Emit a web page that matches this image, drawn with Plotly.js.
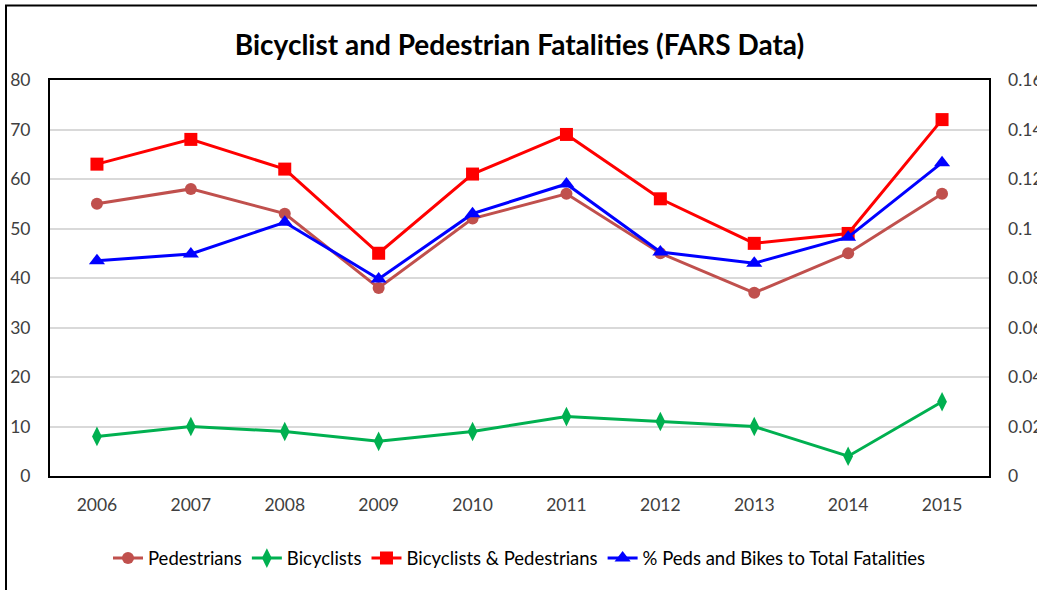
<!DOCTYPE html>
<html>
<head>
<meta charset="utf-8">
<script src="https://cdn.plot.ly/plotly-3.0.1.min.js"></script>
<style>
html,body{margin:0;padding:0;background:#fff;}
#chart{width:1037px;height:590px;}
</style>
</head>
<body>
<div id="chart"></div>
<script>
const years = ['2006','2007','2008','2009','2010','2011','2012','2013','2014','2015'];
const pedestrians = [55, 58, 53, 38, 52, 57, 45, 37, 45, 57];
const bicyclists = [8, 10, 9, 7, 9, 12, 11, 10, 4, 15];
const bikesAndPeds = [63, 68, 62, 45, 61, 69, 56, 47, 49, 72];
const pctToTotal = [0.087, 0.0897, 0.1025, 0.0796, 0.106, 0.118, 0.0905, 0.086, 0.0965, 0.1266];
const leftTicks = [0, 10, 20, 30, 40, 50, 60, 70, 80];
const rightTicks = [0, 0.02, 0.04, 0.06, 0.08, 0.1, 0.12, 0.14, 0.16];
const rightTickText = ['0', '0.02', '0.04', '0.06', '0.08', '0.1', '0.12', '0.14', '0.16'];

const FONT = 'Lato, "Open Sans", sans-serif';
const traces = [
  {x: years, y: pedestrians, name: 'Pedestrians', type: 'scatter', mode: 'lines+markers',
   line: {color: '#C0504D', width: 3}, marker: {symbol: 'circle', size: 12, color: '#C0504D'}},
  {x: years, y: bicyclists, name: 'Bicyclists', type: 'scatter', mode: 'lines+markers',
   line: {color: '#00B050', width: 3}, marker: {symbol: 'diamond-tall', size: 14, color: '#00B050'}},
  {x: years, y: bikesAndPeds, name: 'Bicyclists & Pedestrians', type: 'scatter', mode: 'lines+markers',
   line: {color: '#FF0000', width: 3}, marker: {symbol: 'square', size: 13, color: '#FF0000'}},
  {x: years, y: pctToTotal, name: '% Peds and Bikes to Total Fatalities', type: 'scatter', mode: 'lines+markers',
   yaxis: 'y2', line: {color: '#0000FF', width: 3}, marker: {symbol: 'triangle-up', size: 14, color: '#0000FF'}}
];

const layout = {
  width: 1037, height: 590,
  margin: {l: 50, r: 48, t: 80, b: 112, pad: 0},
  paper_bgcolor: '#fff', plot_bgcolor: '#fff',
  font: {family: FONT, size: 17.5, color: '#404040'},
  title: {text: 'Bicyclist and Pedestrian Fatalities (FARS Data)',
          font: {family: FONT, size: 28, color: '#000', weight: 'bold'},
          x: 0.5, xanchor: 'center', y: 1 - 45/590, yanchor: 'middle', xref: 'paper'},
  showlegend: true,
  legend: {orientation: 'h', x: 0.5, xanchor: 'center', y: -(561-478)/398, yanchor: 'middle',
           font: {family: FONT, size: 18.5, color: '#000'}, traceorder: 'normal', itemwidth: 30},
  xaxis: {type: 'category', range: [-0.5, 9.5], showgrid: false, zeroline: false,
          showline: true, linecolor: '#000', linewidth: 2, mirror: true,
          ticks: '', ticklabelstandoff: 12, tickfont: {family: FONT, size: 17.5, color: '#404040'}},
  yaxis: {range: [0, 80], tickvals: leftTicks, showgrid: true, gridcolor: '#D9D9D9', gridwidth: 2,
          zeroline: false, showline: true, linecolor: '#000', linewidth: 2, mirror: true,
          ticks: '', ticklabelstandoff: 14, tickfont: {family: FONT, size: 17.5, color: '#404040'}},
  yaxis2: {range: [0, 0.16], overlaying: 'y', side: 'right', tickvals: rightTicks, ticktext: rightTickText,
           showgrid: false, zeroline: false, showline: false, ticks: '', ticklabelstandoff: 18,
           tickfont: {family: FONT, size: 17.5, color: '#404040'}},
  shapes: [
    {type: 'rect', xref: 'paper', yref: 'paper',
     x0: (6-50)/939, x1: (1045-50)/939, y0: -(600-478)/398, y1: (478-5)/398,
     line: {color: '#000', width: 2}, fillcolor: 'rgba(0,0,0,0)', layer: 'below'}
  ]
};

Plotly.newPlot('chart', traces, layout, {displayModeBar: false, staticPlot: true});
</script>
</body>
</html>
